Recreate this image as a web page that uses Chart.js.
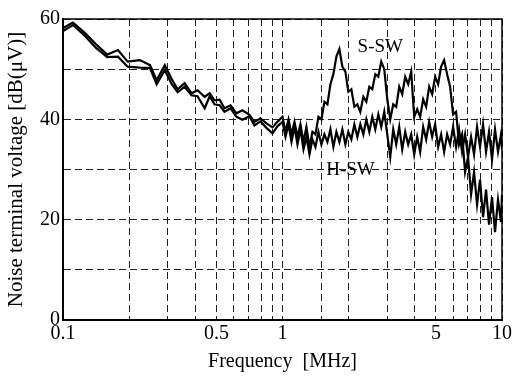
<!DOCTYPE html>
<html>
<head>
<meta charset="utf-8">
<script src="https://cdn.jsdelivr.net/npm/chart.js@4"></script>
<style>
html,body{margin:0;padding:0;background:#fff}
#wrap{width:512px;height:376px}
</style>
</head>
<body>
<div id="wrap"><canvas id="noiseChart"></canvas></div>
<script>
// frequency points [MHz], shared by both curves
const freq = [0.100,0.111,0.126,0.141,0.159,0.178,0.197,0.224,0.249,0.267,0.291,0.313,0.333,0.358,0.385,0.410,0.442,0.466,0.490,0.517,0.544,0.580,0.617,0.657,0.707,0.745,0.793,0.845,0.900,0.948,
	1.000,1.032,1.065,1.099,1.134,1.170,1.207,1.246,1.285,1.327,1.369,1.413,1.458,1.504,1.552,1.602,1.653,1.705,1.760,1.816,1.874,1.934,1.995,2.059,2.125,2.193,2.262,2.335,2.409,2.486,
	2.565,2.647,2.732,2.818,2.908,3.001,3.097,3.195,3.297,3.403,3.511,3.623,3.738,3.858,3.981,4.108,4.238,4.374,4.513,4.657,4.806,4.959,5.117,5.280,5.449,5.623,5.802,5.987,6.178,6.375,
	6.579,6.789,7.005,7.229,7.459,7.697,7.943,8.196,8.458,8.728,9.006,9.293,9.590,9.896,10];
// S-SW noise terminal voltage [dB(uV)]
const sSW = [58.2,59.3,57.2,55.0,52.9,53.8,51.5,51.8,50.8,47.8,50.8,48.0,46.0,47.2,45.2,45.8,44.5,45.2,43.8,43.9,42.2,42.8,41.2,41.8,40.9,39.5,40.2,39.2,38.4,39.5,
	40.5,37.5,40,37,39.5,36.5,39,35.5,38.5,34.5,37.5,37,40.5,40,43.5,43,47,49,52.5,54,50.5,49.5,45.5,46,42.5,43,41.5,44.5,43.5,46.5,
	46,49,48.5,51.5,50,44,40,43,42.5,46.5,45,48.5,47,49.5,40.5,42,40.5,44,42.5,46.5,45,48.5,47,50.5,51.8,49,46.5,41,41.5,35,
	37,29.5,32.5,25,29.5,23,28,20.5,26,19,24.5,17.5,24,19.5,25];
// H-SW noise terminal voltage [dB(uV)]
const hSW = [57.6,58.8,56.6,54.3,52.4,52.5,50.5,50.3,50.2,47.0,49.8,47.0,45.4,46.5,44.8,44.6,42.2,44.6,43.0,42.8,41.5,42.2,40.5,39.9,40.6,38.8,39.6,38.3,37.2,38.6,
	39.5,36.5,39,35.5,38.5,35,38,34,36.5,33,36,34.5,37.5,35,37,35.5,38,34.5,37.5,35.5,38,35,37.5,36,39,36.5,39,37,40,37.5,
	40.5,38,41,38.5,41.5,37,32.5,38,35,38.5,34,37.5,35,37,33,36.5,33.5,38.5,36,39.5,36.5,39,34.5,37,33.5,37,35,38.5,34.5,38,
	33.5,37,32.5,36.5,33,38.5,34.5,39,33.5,37.5,32,38,33.5,37,34];
const xTickLabels = [0.1, 0.5, 1, 5, 10];
const curveNames = ['S-SW', 'H-SW'];
const curveLabelPos = [[2.79, 54.4], [2.04, 29.9]];

function toPoints(ys){
	return freq.map((f,i)=>({x:f, y:ys[i]}));
}

const serif = "'Liberation Serif', 'DejaVu Serif', serif";

const frameAndLabels = {
	id: 'frameAndLabels',
	afterDraw(chart){
		const ctx = chart.ctx;
		const a = chart.chartArea;
		const xs = chart.scales.x, ys = chart.scales.y;
		ctx.save();
		ctx.strokeStyle = '#000';
		ctx.lineWidth = 1.5;
		ctx.setLineDash([]);
		ctx.strokeRect(a.left, a.top, a.right - a.left, a.bottom - a.top);
		ctx.lineWidth = 2;
		ctx.beginPath();
		ctx.moveTo(a.left, a.top);
		ctx.lineTo(a.left, a.bottom);
		ctx.lineTo(a.right, a.bottom);
		ctx.stroke();
		ctx.fillStyle = '#000';
		ctx.font = '19px ' + serif;
		ctx.textAlign = 'center';
		ctx.textBaseline = 'middle';
		curveNames.forEach((n,i)=>{
			ctx.fillText(n, xs.getPixelForValue(curveLabelPos[i][0]), ys.getPixelForValue(curveLabelPos[i][1]));
		});
		ctx.restore();
	}
};

const noiseChart = new Chart(document.querySelector('#noiseChart').getContext('2d'), {
	type: 'line',
	data: {
		datasets: [{
			label: curveNames[0],
			data: toPoints(sSW),
			borderColor: '#000',
			borderWidth: 2.2,
			pointRadius: 0,
			tension: 0
		},{
			label: curveNames[1],
			data: toPoints(hSW),
			borderColor: '#000',
			borderWidth: 2.2,
			pointRadius: 0,
			tension: 0
		}]
	},
	options: {
		responsive: true,
		maintainAspectRatio: false,
		animation: false,
		devicePixelRatio: 1,
		layout: { padding: { top: 19, right: 10, left: 0, bottom: 0 } },
		plugins: { legend: { display: false }, tooltip: { enabled: false } },
		scales: {
			x: {
				type: 'logarithmic',
				min: 0.1,
				max: 10,
				grid: { color: '#222', lineWidth: 1, drawTicks: false },
				border: { display: true, color: '#000', width: 2, dash: [7,4] },
				ticks: {
					autoSkip: false,
					maxRotation: 0,
					padding: 2,
					color: '#000',
					font: { family: serif, size: 20 },
					callback: v => {
						const m = xTickLabels.find(t => Math.abs(t - v) < 1e-6);
						return m === undefined ? '' : String(m);
					}
				},
				title: {
					display: true,
					text: 'Frequency  [MHz]',
					color: '#000',
					font: { family: serif, size: 20 },
					padding: { top: 0, bottom: 2 }
				},
				afterFit: s => { s.height = 56; s.paddingLeft = 0; s.paddingRight = 0; }
			},
			y: {
				min: 0,
				max: 60,
				grid: { color: '#222', lineWidth: 1, drawTicks: false },
				border: { display: true, color: '#000', width: 2, dash: [7,4] },
				ticks: {
					stepSize: 10,
					padding: 3,
					color: '#000',
					font: { family: serif, size: 20 },
					callback: v => v % 20 === 0 ? v : ''
				},
				title: {
					display: true,
					text: 'Noise terminal voltage [dB(μV)]',
					color: '#000',
					font: { family: serif, size: 21 },
					padding: { top: 4, bottom: 0 }
				},
				afterFit: s => { s.width = 63; }
			}
		}
	},
	plugins: [frameAndLabels]
});
</script>
</body>
</html>
